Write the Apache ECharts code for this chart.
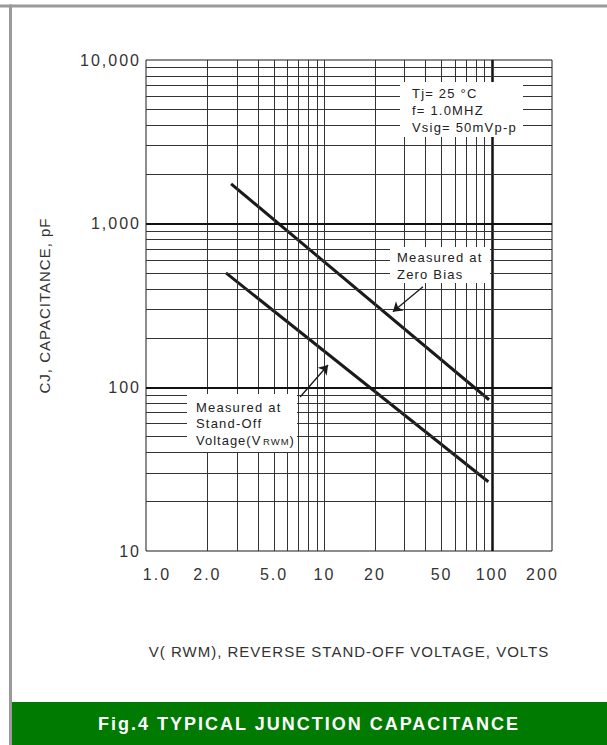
<!DOCTYPE html>
<html><head><meta charset="utf-8">
<script src="https://cdn.jsdelivr.net/npm/echarts@6/dist/echarts.min.js"></script>
<style>
html,body{margin:0;padding:0;background:#fff}
#c{width:607px;height:745px}
#c svg text{letter-spacing:1px}
#c svg text[style*="13px"]{letter-spacing:1.2px}
#c svg text[style*="16px"]{letter-spacing:2px}
#c svg text[style*="bold"]{letter-spacing:2px}
</style>
</head><body><div id="c"></div>
<script>
// ---- data ----
const xTickValues = [1, 2, 5, 10, 20, 50, 100, 200];
const xTickLabels = ['1.0', '2.0', '5.0', '10', '20', '50', '100', '200'];
const yTickValues = [10, 100, 1000, 10000];
const yTickLabels = ['10', '100', '1,000', '10,000'];
const xGridMinor = [2, 3, 4, 5, 6, 7, 8, 9, 10, 20, 30, 40, 50, 60, 70, 80, 90];
const xGridMajor = [100];
const yGridMinor = [20, 30, 40, 50, 60, 70, 80, 90, 200, 300, 400, 500, 600, 700, 800, 900, 2000, 3000, 4000, 5000, 6000, 7000, 8000, 9000];
const yGridMajor = [100, 1000];
const zeroBiasVolts = [2.77, 96];
const zeroBiasPf = [1750, 84];
const standOffVolts = [2.58, 95];
const standOffPf = [500, 26.5];
const arrowZeroBias = [[38.7, 412], [25.6, 290]];
const arrowStandOff = [[7.15, 87.3], [10.5, 136.9]];

const FONT = '"Liberation Sans", Arial, sans-serif';
function lookup(vals, labels, v) {
  for (let i = 0; i < vals.length; i++) {
    if (Math.abs(Math.log10(v) - Math.log10(vals[i])) < 1e-6) return labels[i];
  }
  return '';
}
const chart = echarts.init(document.getElementById('c'), null, {renderer: 'svg'});
const gridLines = [].concat(
  xGridMinor.map(v => ({xAxis: v})),
  xGridMajor.map(v => ({xAxis: v, lineStyle: {width: 2.5, color: '#111'}})),
  yGridMinor.map(v => ({yAxis: v})),
  yGridMajor.map(v => ({yAxis: v, lineStyle: {width: 2, color: '#111'}}))
);
const arrowMark = (pts) => ({
  silent: true, symbol: ['none', 'arrow'], symbolSize: 9, label: {show: false},
  lineStyle: {color: '#1a1a1a', width: 1.3, type: 'solid'},
  data: [[{coord: pts[0]}, {coord: pts[1]}]]
});
function boxText(x, y, text, size) {
  return {type: 'text', z: 101, x: x, y: y, style: {text: text,
    font: (size || 13) + 'px ' + FONT, fill: '#222', verticalAlign: 'middle'}};
}
chart.setOption({
  animation: false,
  backgroundColor: '#fff',
  grid: {left: 146, top: 60, right: 55, bottom: 194, show: true, borderColor: '#1a1a1a', borderWidth: 1},
  xAxis: {
    type: 'log', logBase: 10, min: 0.86, max: 228,
    axisLine: {show: false}, axisTick: {show: false}, splitLine: {show: false},
    axisLabel: {customValues: xTickValues, formatter: v => lookup(xTickValues, xTickLabels, v),
      fontSize: 16, color: '#333', fontFamily: FONT, margin: 15},
    name: 'V( RWM), REVERSE STAND-OFF VOLTAGE, VOLTS', nameLocation: 'middle', nameGap: 93,
    nameTextStyle: {fontSize: 15, color: '#333', fontFamily: FONT}
  },
  yAxis: {
    type: 'log', logBase: 10, min: 10, max: 10000,
    axisLine: {show: false}, axisTick: {show: false}, splitLine: {show: false},
    axisLabel: {formatter: v => lookup(yTickValues, yTickLabels, v),
      fontSize: 16, color: '#333', fontFamily: FONT, margin: 5},
    name: 'CJ, CAPACITANCE, pF', nameLocation: 'middle', nameGap: 94,
    nameTextStyle: {fontSize: 15, color: '#333', fontFamily: FONT}
  },
  series: [
    {type: 'line', name: 'grid', data: [], z: 1, silent: true,
      markLine: {silent: true, symbol: 'none', label: {show: false},
        lineStyle: {color: '#333', width: 1, type: 'solid'}, data: gridLines}},
    {type: 'line', name: 'Zero Bias', z: 3, symbol: 'none',
      data: zeroBiasVolts.map((v, i) => [v, zeroBiasPf[i]]),
      lineStyle: {color: '#1a1a1a', width: 3}, markLine: arrowMark(arrowZeroBias)},
    {type: 'line', name: 'Stand-Off', z: 3, symbol: 'none',
      data: standOffVolts.map((v, i) => [v, standOffPf[i]]),
      lineStyle: {color: '#1a1a1a', width: 3}, markLine: arrowMark(arrowStandOff)}
  ],
  graphic: [
    {type: 'rect', z: 100, shape: {x: 0, y: 4.5, width: 607, height: 3}, style: {fill: '#9a9a9a'}},
    {type: 'rect', z: 100, shape: {x: 9, y: 4.5, width: 3, height: 741}, style: {fill: '#9a9a9a'}},
    {type: 'rect', z: 100, shape: {x: 12, y: 702, width: 595, height: 43}, style: {fill: '#007a00'}},
    {type: 'text', z: 101, x: 309, y: 724, style: {text: 'Fig.4 TYPICAL JUNCTION CAPACITANCE',
      font: 'bold 18px ' + FONT, fill: '#fff', align: 'center', verticalAlign: 'middle'}},
    // box: conditions
    {type: 'rect', z: 100, shape: {x: 400, y: 82, width: 123, height: 55}, style: {fill: '#fff'}},
    boxText(412, 93, 'Tj= 25 °C'),
    boxText(412, 110, 'f= 1.0MHZ'),
    boxText(412, 127, 'Vsig= 50mVp-p'),
    // box: zero bias
    {type: 'rect', z: 100, shape: {x: 390, y: 247, width: 100, height: 36}, style: {fill: '#fff'}},
    boxText(397, 257, 'Measured at'),
    boxText(397, 274.5, 'Zero Bias'),
    // box: stand-off
    {type: 'rect', z: 100, shape: {x: 187, y: 394, width: 110, height: 58}, style: {fill: '#fff'}},
    boxText(196, 407, 'Measured at'),
    boxText(196, 423.5, 'Stand-Off'),
    boxText(196, 440, 'Voltage(V', 12.99),
    boxText(263, 441, 'RWM', 9.5),
    boxText(289.5, 440, ')', 12.99)
  ]
});
</script></body></html>
